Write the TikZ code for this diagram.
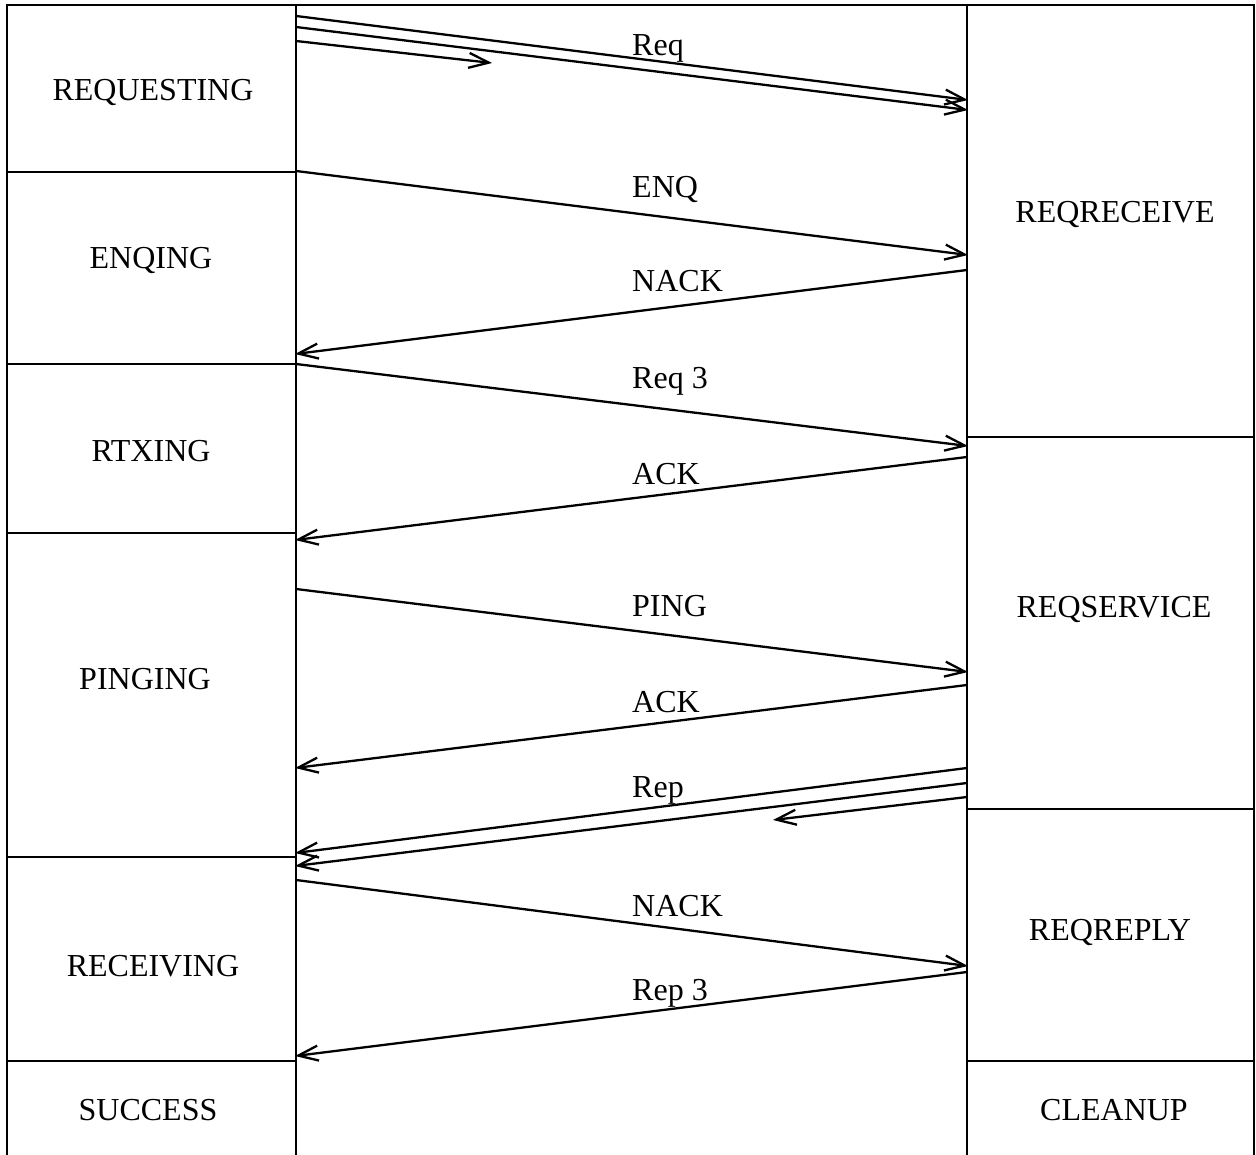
\documentclass[tikz,border=0pt]{standalone}
\usepackage{fontspec}
\setmainfont{Liberation Serif}
\usetikzlibrary{arrows.meta}
\begin{document}
\begin{tikzpicture}[x=1pt,y=-1pt,
  frame/.style={line width=2.3pt},
  msg/.style={line width=2.3pt,-{Straight Barb[length=20pt,width=15pt,line width=2.3pt]}},
  statelbl/.style={inner sep=0pt,text height=21pt,text depth=0pt,anchor=center,font=\fontsize{32}{38}\selectfont},
  msglbl/.style={inner sep=0pt,text height=21pt,text depth=0pt,anchor=west,font=\fontsize{32}{38}\selectfont}]
\useasboundingbox (0,0) rectangle (1256,1155);

% lifelines and outer frame
\draw[frame] (7,1156) -- (7,5) -- (1254,5) -- (1254,1156);
\draw[frame] (296,5) -- (296,1156);
\draw[frame] (967,5) -- (967,1156);

% state separators, client side
\foreach \yy in {172,364,533,857,1061} \draw[frame] (7,\yy) -- (296,\yy);
% state separators, server side
\foreach \yy in {437,809,1061} \draw[frame] (967,\yy) -- (1254,\yy);

% client states
\node[statelbl] (requesting) at (153,90)  {REQUESTING};
\node[statelbl] (enqing)     at (151,258) {ENQING};
\node[statelbl] (rtxing)     at (151,451) {RTXING};
\node[statelbl] (pinging)    at (145,679) {PINGING};
\node[statelbl] (receiving)  at (153,966) {RECEIVING};
\node[statelbl] (success)    at (148,1110) {SUCCESS};
% server states
\node[statelbl] (reqreceive) at (1115,212) {REQRECEIVE};
\node[statelbl] (reqservice) at (1114,607) {REQSERVICE};
\node[statelbl] (reqreply)   at (1110,930) {REQREPLY};
\node[statelbl] (cleanup)    at (1114,1110) {CLEANUP};

% message end points
\coordinate (c1a) at (296,16);  \coordinate (s1a) at (968,100);
\coordinate (c1b) at (296,27);  \coordinate (s1b) at (968,110);
\coordinate (c1c) at (296,41);  \coordinate (m1c) at (492,63);
\coordinate (c2) at (296,171);  \coordinate (s2) at (968,255);
\coordinate (s3) at (967,270);  \coordinate (c3) at (295,354);
\coordinate (c4) at (296,364);  \coordinate (s4) at (968,446);
\coordinate (s5) at (967,457);  \coordinate (c5) at (295,540);
\coordinate (c6) at (296,589);  \coordinate (s6) at (968,672);
\coordinate (s7) at (967,685);  \coordinate (c7) at (295,768);
\coordinate (s8a) at (967,768); \coordinate (c8a) at (295,853);
\coordinate (s8b) at (967,783); \coordinate (c8b) at (295,866);
\coordinate (s8c) at (967,797); \coordinate (m8c) at (773,820);
\coordinate (c9) at (296,880);  \coordinate (s9) at (968,966);
\coordinate (s10) at (967,972); \coordinate (c10) at (295,1056);

% messages
\draw[msg] (c1a) -- (s1a);
\draw[msg] (c1b) -- (s1b);
\draw[msg] (c1c) -- (m1c);
\draw[msg] (c2) -- (s2);
\draw[msg] (s3) -- (c3);
\draw[msg] (c4) -- (s4);
\draw[msg] (s5) -- (c5);
\draw[msg] (c6) -- (s6);
\draw[msg] (s7) -- (c7);
\draw[msg] (s8a) -- (c8a);
\draw[msg] (s8b) -- (c8b);
\draw[msg] (s8c) -- (m8c);
\draw[msg] (c9) -- (s9);
\draw[msg] (s10) -- (c10);

% message labels
\node[msglbl] (lreq)   at (632,45)  {Req};
\node[msglbl] (lenq)   at (632,187) {ENQ};
\node[msglbl] (lnack1) at (632,281) {NACK};
\node[msglbl] (lreq3)  at (632,378) {Req 3};
\node[msglbl] (lack1)  at (632,474) {ACK};
\node[msglbl] (lping)  at (632,606) {PING};
\node[msglbl] (lack2)  at (632,702) {ACK};
\node[msglbl] (lrep)   at (632,787) {Rep};
\node[msglbl] (lnack2) at (632,906) {NACK};
\node[msglbl] (lrep3)  at (632,990) {Rep 3};
\end{tikzpicture}
\end{document}
